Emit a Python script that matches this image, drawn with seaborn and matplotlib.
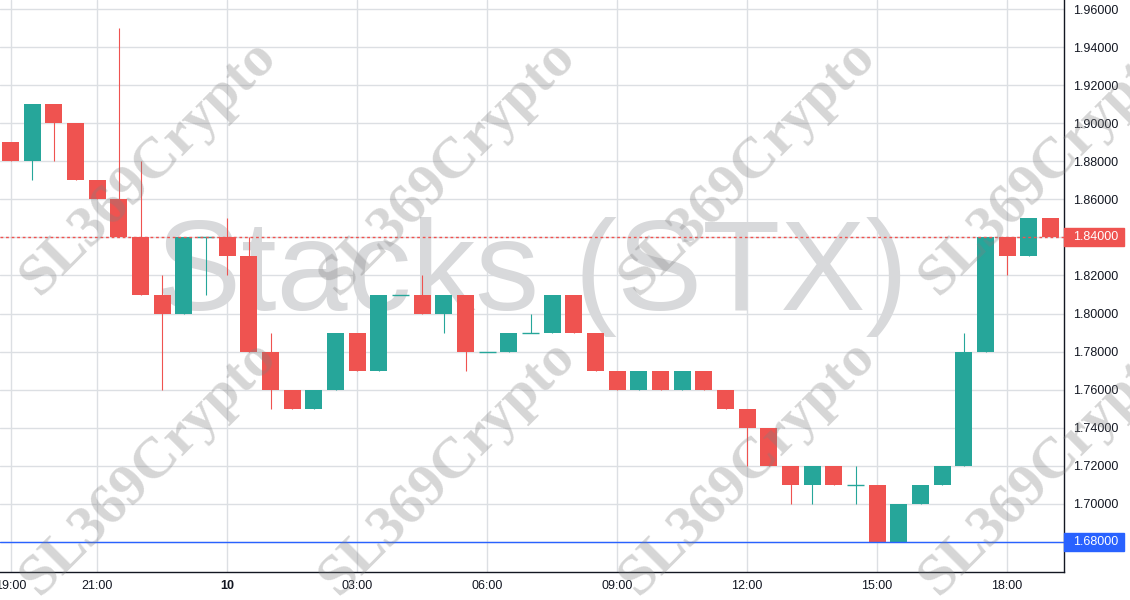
import numpy as np
import pandas as pd
import matplotlib
matplotlib.use("Agg")
import matplotlib.pyplot as plt
import matplotlib.dates as mdates
from matplotlib.patches import Rectangle
from matplotlib.ticker import FixedLocator, FixedFormatter
import seaborn as sns

# 30 minute candles, STX
times = pd.date_range("2024-01-09 19:00", periods=49, freq="30min")
opens = [1.89, 1.88, 1.91, 1.90, 1.87, 1.86, 1.84, 1.81, 1.80, 1.84,
         1.84, 1.83, 1.78, 1.76, 1.75, 1.76, 1.79, 1.77, 1.81, 1.81,
         1.80, 1.81, 1.78, 1.78, 1.79, 1.79, 1.81, 1.79, 1.77, 1.76,
         1.77, 1.76, 1.77, 1.76, 1.75, 1.74, 1.72, 1.71, 1.72, 1.71,
         1.71, 1.68, 1.70, 1.71, 1.72, 1.78, 1.84, 1.83, 1.85]
highs = [1.89, 1.91, 1.91, 1.90, 1.87, 1.95, 1.88, 1.82, 1.84, 1.84,
         1.85, 1.84, 1.79, 1.76, 1.76, 1.79, 1.79, 1.81, 1.81, 1.82,
         1.81, 1.81, 1.78, 1.79, 1.80, 1.81, 1.81, 1.79, 1.77, 1.77,
         1.77, 1.77, 1.77, 1.76, 1.75, 1.74, 1.72, 1.72, 1.72, 1.72,
         1.71, 1.70, 1.71, 1.72, 1.79, 1.84, 1.84, 1.85, 1.85]
lows = [1.88, 1.87, 1.88, 1.87, 1.86, 1.84, 1.81, 1.76, 1.80, 1.81,
        1.82, 1.78, 1.75, 1.75, 1.75, 1.76, 1.77, 1.77, 1.81, 1.80,
        1.79, 1.77, 1.78, 1.78, 1.79, 1.79, 1.79, 1.77, 1.76, 1.76,
        1.76, 1.76, 1.76, 1.75, 1.72, 1.72, 1.70, 1.70, 1.71, 1.70,
        1.68, 1.68, 1.70, 1.71, 1.72, 1.78, 1.82, 1.83, 1.84]
closes = [1.88, 1.91, 1.90, 1.87, 1.86, 1.84, 1.81, 1.80, 1.84, 1.84,
          1.83, 1.78, 1.76, 1.75, 1.76, 1.79, 1.77, 1.81, 1.81, 1.80,
          1.81, 1.78, 1.78, 1.79, 1.79, 1.81, 1.79, 1.77, 1.76, 1.77,
          1.76, 1.77, 1.76, 1.75, 1.74, 1.72, 1.71, 1.72, 1.71, 1.71,
          1.68, 1.70, 1.71, 1.72, 1.78, 1.84, 1.83, 1.85, 1.84]

tick_times = ["2024-01-09 19:00", "2024-01-09 21:00", "2024-01-10 00:00",
              "2024-01-10 03:00", "2024-01-10 06:00", "2024-01-10 09:00",
              "2024-01-10 12:00", "2024-01-10 15:00", "2024-01-10 18:00"]
tick_labels = ["19:00", "21:00", "10", "03:00", "06:00", "09:00", "12:00", "15:00", "18:00"]
price_ticks = [1.68, 1.70, 1.72, 1.74, 1.76, 1.78, 1.80, 1.82, 1.84, 1.86,
               1.88, 1.90, 1.92, 1.94, 1.96]
last_price = 1.84
support = 1.68

sns.set_style("white")
plt.rcParams["font.family"] = ["Liberation Sans", "DejaVu Sans"]

UP = "#26a69a"
DOWN = "#ef5350"
BLUE = "#2962ff"
INK = "#131722"

fig = plt.figure(figsize=(11.3, 6), dpi=100)
ax = fig.add_axes([0, 28 / 600, 1064 / 1130, 572 / 600])

df = pd.DataFrame({"time": times, "open": opens, "high": highs, "low": lows, "close": closes})
df["x"] = mdates.date2num(df["time"].dt.to_pydatetime())
df["up"] = df["close"] >= df["open"]
df["color"] = np.where(df["up"], UP, DOWN)
step = 30 / 1440
w = step * 0.785

# wicks
ax.vlines(df["x"], df["low"], df["high"], colors=df["color"], linewidth=0.8, zorder=3)
# bodies
body = df[df["open"] != df["close"]]
ax.bar(body["x"], (body["close"] - body["open"]).abs(),
       bottom=body[["open", "close"]].min(axis=1), width=w,
       color=body["color"], linewidth=0, zorder=4)
doji = df[df["open"] == df["close"]]
ax.hlines(doji["close"], doji["x"] - w / 2, doji["x"] + w / 2, colors=doji["color"],
          linewidth=1, zorder=4)

# price lines
ax.axhline(last_price, color=DOWN, linewidth=1, linestyle=(0, (2, 2)), zorder=5)
ax.axhline(support, color=BLUE, linewidth=1, zorder=5)

# axes
ax.set_xlim(df["x"].iloc[0] - step * 10.5 / 21.667, df["x"].iloc[0] + step * 1053.5 / 21.667)
ax.set_ylim(1.96 - 563 * 0.02 / 38.07, 1.96 + 9 * 0.02 / 38.07)
tx = mdates.date2num(pd.to_datetime(tick_times).to_pydatetime())
ax.xaxis.set_major_locator(FixedLocator(tx))
ax.xaxis.set_major_formatter(FixedFormatter(tick_labels))
ax.yaxis.tick_right()
ax.set_yticks(price_ticks)
ax.set_yticklabels([f"{p:.5f}" for p in price_ticks])
ax.tick_params(axis="both", length=0, labelsize=9, colors=INK)
ax.tick_params(axis="y", pad=6.5)
ax.tick_params(axis="x", pad=6)
ax.get_xticklabels()[2].set_fontweight("bold")
ax.grid(True, color="#dcdfe3", linewidth=1)
ax.set_axisbelow(True)
for s in ["top", "left"]:
    ax.spines[s].set_visible(False)
for s in ["right", "bottom"]:
    ax.spines[s].set_color(INK)
    ax.spines[s].set_linewidth(1)

# symbol watermark
ax.text(0.5, 0.458, "Stacks (STX)", transform=ax.transAxes, ha="center", va="baseline",
        fontsize=92, color="#d8d9db", zorder=1)

# price labels on the axis
box_h = 18 * 0.02 / 38.07
for p, c in [(last_price, DOWN), (support, BLUE)]:
    ax.add_patch(Rectangle((1.0, p - box_h / 2), 60 / 1064, box_h, transform=ax.get_yaxis_transform(),
                           color=c, clip_on=False, zorder=6))
    ax.text(1 + 9 / 1064, p, f"{p:.5f}", transform=ax.get_yaxis_transform(), ha="left",
            va="center", fontsize=9, color="white", zorder=7, clip_on=False)

# author watermark
for cy in [167, 467]:
    for cx in [149, 448, 748, 1048]:
        fig.text(cx / 1130, 1 - cy / 600, "SL369Crypto", rotation=45, rotation_mode="anchor",
                 ha="center", va="center", fontsize=42, fontweight="bold",
                 family=["Liberation Serif", "DejaVu Serif"], color="#808080", alpha=0.32)

fig.savefig("out.png", dpi=100)
